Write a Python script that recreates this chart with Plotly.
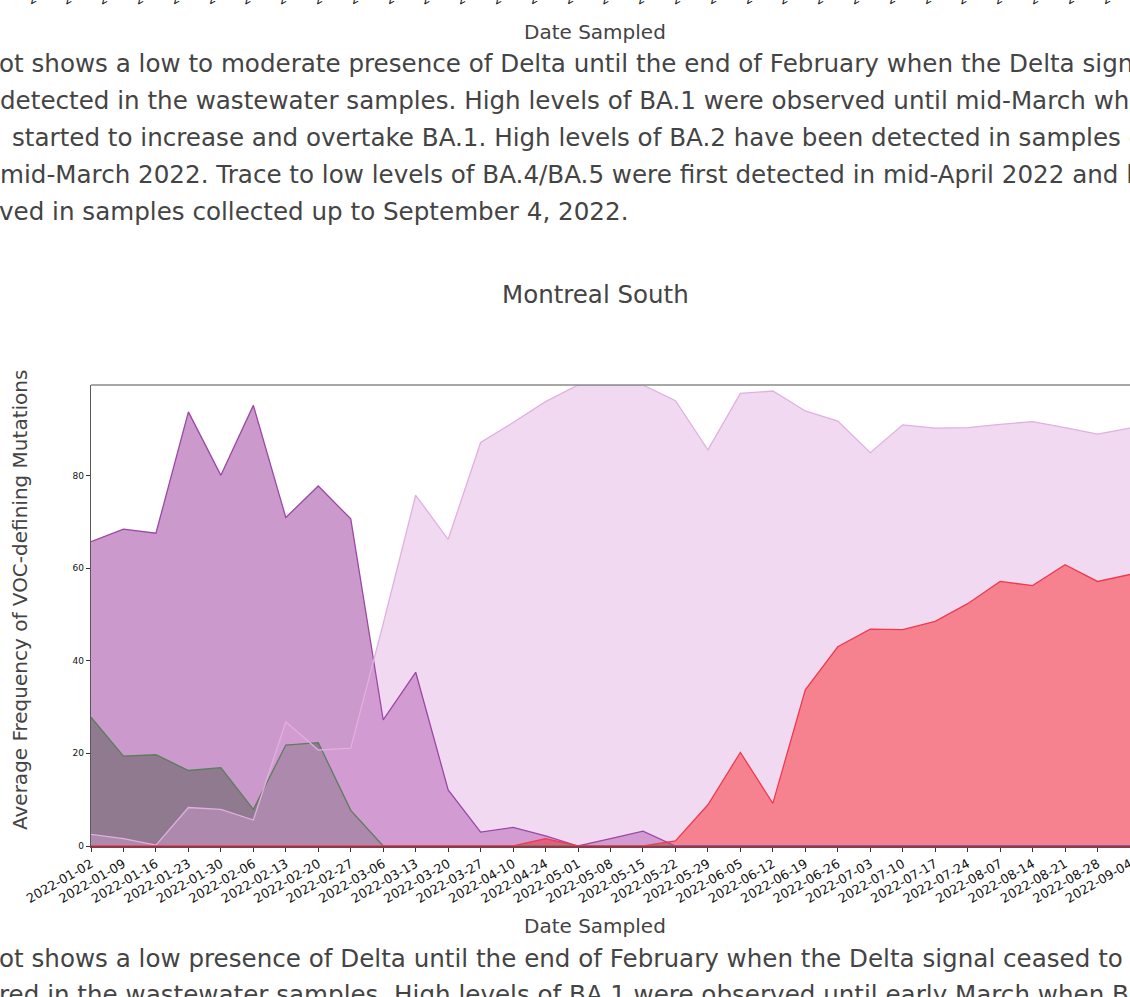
import plotly.graph_objects as go

# sample dates (categorical x axis)
dates = ['2022-01-02', '2022-01-09', '2022-01-16', '2022-01-23', '2022-01-30',
         '2022-02-06', '2022-02-13', '2022-02-20', '2022-02-27', '2022-03-06',
         '2022-03-13', '2022-03-20', '2022-03-27', '2022-04-10', '2022-04-24',
         '2022-05-01', '2022-05-08', '2022-05-15', '2022-05-22', '2022-05-29',
         '2022-06-05', '2022-06-12', '2022-06-19', '2022-06-26', '2022-07-03',
         '2022-07-10', '2022-07-17', '2022-07-24', '2022-08-07', '2022-08-14',
         '2022-08-21', '2022-08-28', '2022-09-04']

# average frequency of VOC-defining mutations per lineage
delta = [27.8, 19.4, 19.7, 16.3, 16.9, 7.9, 21.8, 22.3, 7.7, 0,
         0, 0, 0, 0, 0, 0, 0, 0, 0, 0,
         0, 0, 0, 0, 0, 0, 0, 0, 0, 0,
         0, 0, 0]
ba1 = [65.7, 68.4, 67.5, 93.7, 80.0, 95.1, 70.9, 77.7, 70.6, 27.2,
       37.5, 12.1, 3.0, 4.0, 2.2, 0, 1.6, 3.2, 0, 0,
       0, 0, 0, 0, 0, 0, 0, 0, 0, 0,
       0, 0, 0]
ba2 = [2.5, 1.6, 0.2, 8.3, 7.9, 5.6, 26.8, 20.7, 21.1, 48.0,
       75.7, 66.2, 87.1, 91.4, 95.9, 99.5, 99.5, 99.5, 96.1, 85.5,
       97.7, 98.2, 93.9, 91.7, 84.9, 90.9, 90.2, 90.3, 91.0, 91.6,
       90.3, 88.9, 90.2]
ba45 = [0, 0, 0, 0, 0, 0, 0, 0, 0, 0,
        0, 0, 0, 0, 1.6, 0, 0, 0, 1.1, 8.9,
        20.2, 9.2, 33.7, 43.0, 46.8, 46.7, 48.5, 52.3, 57.1, 56.2,
        60.7, 57.1, 58.6]

series = [
    ('Delta', delta, 'rgba(0,128,0,0.4)', '#5b7d5b'),
    ('BA.1', ba1, 'rgba(128,0,128,0.4)', '#9c47a6'),
    ('BA.2', ba2, 'rgba(221,160,221,0.4)', '#e0b0e0'),
    ('BA.4/BA.5', ba45, 'rgba(255,0,0,0.4)', '#ee3b4d'),
]

top_text = [
    "ot shows a low to moderate presence of Delta until the end of February when the Delta signal ceased to",
    "detected in the wastewater samples. High levels of BA.1 were observed until mid-March when BA.2",
    "started to increase and overtake BA.1. High levels of BA.2 have been detected in samples collected",
    "mid-March 2022. Trace to low levels of BA.4/BA.5 were first detected in mid-April 2022 and low levels",
    "ved in samples collected up to September 4, 2022.",
]
bottom_text = [
    "ot shows a low presence of Delta until the end of February when the Delta signal ceased to be",
    "red in the wastewater samples. High levels of BA.1 were observed until early March when BA.2",
]

FONT = 'DejaVu Sans'
GREY = '#444444'
BODY = 24.6


def px_x(x):
    return (x - 91) / 1039


def px_y(y):
    return (846 - y) / 461


def note(x, y, text, size, color=GREY, **kw):
    return dict(x=px_x(x), y=px_y(y), xref='paper', yref='paper', text=text,
                showarrow=False, font=dict(family=FONT, size=size, color=color), **kw)


fig = go.Figure()
for name, vals, fillc, linec in series:
    fig.add_trace(go.Scatter(x=dates, y=vals, name=name, mode='lines', fill='tozeroy',
                             fillcolor=fillc, line=dict(width=0, color=linec)))
for name, vals, fillc, linec in series:
    fig.add_trace(go.Scatter(x=dates, y=vals, name=name, mode='lines',
                             line=dict(width=1.3, color=linec)))

annotations = []
for i, (x0, line) in enumerate(zip([-3, -2, 10, -2, -3], top_text)):
    annotations.append(note(x0, 64 + 36.75 * i, line, BODY, xanchor='left', yanchor='middle'))
for i, (x0, line) in enumerate(zip([-3, -3], bottom_text)):
    annotations.append(note(x0, 958 + 36.75 * i, line, BODY, xanchor='left', yanchor='middle'))

annotations += [
    note(595, 294, 'Montreal South', 24.5, xanchor='center', yanchor='middle'),
    note(595, 926, 'Date Sampled', 20, xanchor='center', yanchor='middle'),
    note(595, 32, 'Date Sampled', 20, xanchor='center', yanchor='middle'),
    note(20, 600, 'Average Frequency of VOC-defining Mutations', 20,
         textangle=-90, xanchor='center', yanchor='middle'),
]

# tails of the rotated tick labels of the chart above, cut by the page top
for k in range(31):
    annotations.append(note(22 + 35.8 * k, 10, dates[k], 12, color='#111111',
                            textangle=-30, xanchor='left', yanchor='bottom'))

fig.update_layout(
    width=1130, height=997, autosize=False,
    margin=dict(l=91, r=0, t=385, b=151),
    paper_bgcolor='white', plot_bgcolor='white',
    showlegend=False,
    annotations=annotations,
    shapes=[dict(type='line', xref='paper', yref='paper', x0=0, x1=1, y0=1, y1=1,
                 line=dict(color='#8a8a8a', width=1.5))],
    xaxis=dict(type='category', range=[0, 32], showgrid=False, zeroline=False,
               automargin=False,
               showline=True, linecolor='#8c3a4a', linewidth=1.5, mirror=False,
               ticks='outside', ticklen=4, tickcolor='#333333', tickangle=-30,
               tickfont=dict(family=FONT, size=12.8, color='#111111')),
    yaxis=dict(range=[0, 99.5], showgrid=False, zeroline=False,
               automargin=False,
               showline=True, linecolor='#5a5a5a', linewidth=1.3, mirror=False,
               ticks='outside', ticklen=4, tickcolor='#333333',
               tickvals=[0, 20, 40, 60, 80],
               tickfont=dict(family=FONT, size=9, color='#111111')),
)

fig.write_html("out.html", config={'displayModeBar': False},
               post_script="document.body.style.margin='0';")
